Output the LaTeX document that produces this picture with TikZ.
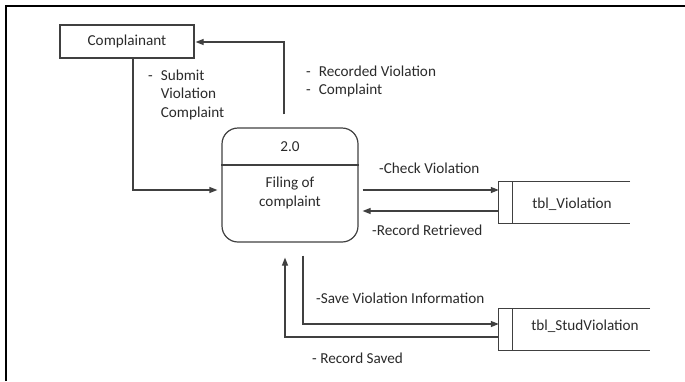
\documentclass[tikz,border=0pt]{standalone}
\usepackage{fontspec}
\setmainfont{Carlito}
\usetikzlibrary{arrows.meta}
\definecolor{ln}{HTML}{404040}
\definecolor{tx}{HTML}{2a2a2a}
\begin{document}
\begin{tikzpicture}[x=1pt,y=-1pt,
  every node/.style={font=\fontsize{15.2}{18.5}\selectfont, text=tx, inner sep=0pt},
  flow/.style={draw=ln, line width=1.2pt, -{Triangle[length=8pt,width=6pt]}},
  entity/.style={draw=ln, line width=1.2pt, minimum width=134pt, minimum height=33pt},
  proc/.style={draw=ln, line width=1.2pt, rounded corners=16pt, minimum width=136pt, minimum height=114pt},
  lbl/.style={anchor=west, align=left}]
\useasboundingbox (0,0) rectangle (685,381);
\draw[black, line width=2pt] (6,381) -- (6,6) -- (685,6);

% nodes
\node[entity] (cmp) at (127,41.5) {Complainant};
\node[proc] (prc) at (290,185) {};
\draw[ln, line width=1.2pt] (prc.west |- 0,165) -- (prc.east |- 0,165);
\node (pnum) at (290,147) {2.0};
\node[align=center] (pname) at (290,193) {Filing of\\complaint};

% data stores
\node[minimum width=131pt, minimum height=41pt] (tv) at (564.5,202.5) {};
\draw[ln, line width=1.2pt] (tv.north east) -- (tv.north west) -- (tv.south west) -- (tv.south east);
\draw[ln, line width=1.2pt] ([xshift=14pt]tv.north west) -- ([xshift=14pt]tv.south west);
\node (tvt) at (572,204) {tbl\_Violation};

\node[minimum width=151pt, minimum height=41pt] (ts) at (574.5,329.5) {};
\draw[ln, line width=1.2pt] (ts.north east) -- (ts.north west) -- (ts.south west) -- (ts.south east);
\draw[ln, line width=1.2pt] ([xshift=14pt]ts.north west) -- ([xshift=14pt]ts.south west);
\node (tst) at (585,326) {tbl\_StudViolation};

% connectors
\coordinate (c1) at (133,190);
\draw[flow, shorten >=4pt] (cmp.south -| c1) |- (prc.west |- c1);
\coordinate (c2) at (284,42);
\draw[flow, shorten <=13pt, shorten >=1pt] (prc.north -| c2) |- (cmp.east |- c2);
\coordinate (c3) at (0,190);
\draw[flow, shorten <=4pt] (prc.east |- c3) -- (tv.west |- c3);
\coordinate (c4) at (0,211);
\draw[flow, shorten >=4pt] (tv.west |- c4) -- (prc.east |- c4);
\coordinate (c5) at (303,324);
\draw[flow, shorten <=13pt] (prc.south -| c5) |- (ts.west |- c5);
\coordinate (c6) at (285,337);
\draw[flow, shorten >=15pt] (ts.west |- c6) -| (prc.south -| c6);

% labels
\node[lbl] (l1) at (148,95) {\begin{tabular}{@{}l@{\hspace{8pt}}l@{}}-&Submit\\&Violation\\&Complaint\end{tabular}};
\node[lbl] (l2) at (306,82) {\begin{tabular}{@{}l@{\hspace{8pt}}l@{}}-&Recorded Violation\\-&Complaint\end{tabular}};
\node[lbl] (l3) at (379,168) {-Check Violation};
\node[lbl] (l4) at (372,230) {-Record Retrieved};
\node[lbl] (l5) at (316,298) {-Save Violation Information};
\node[lbl] (l6) at (312,358) {- Record Saved};
\end{tikzpicture}
\end{document}
